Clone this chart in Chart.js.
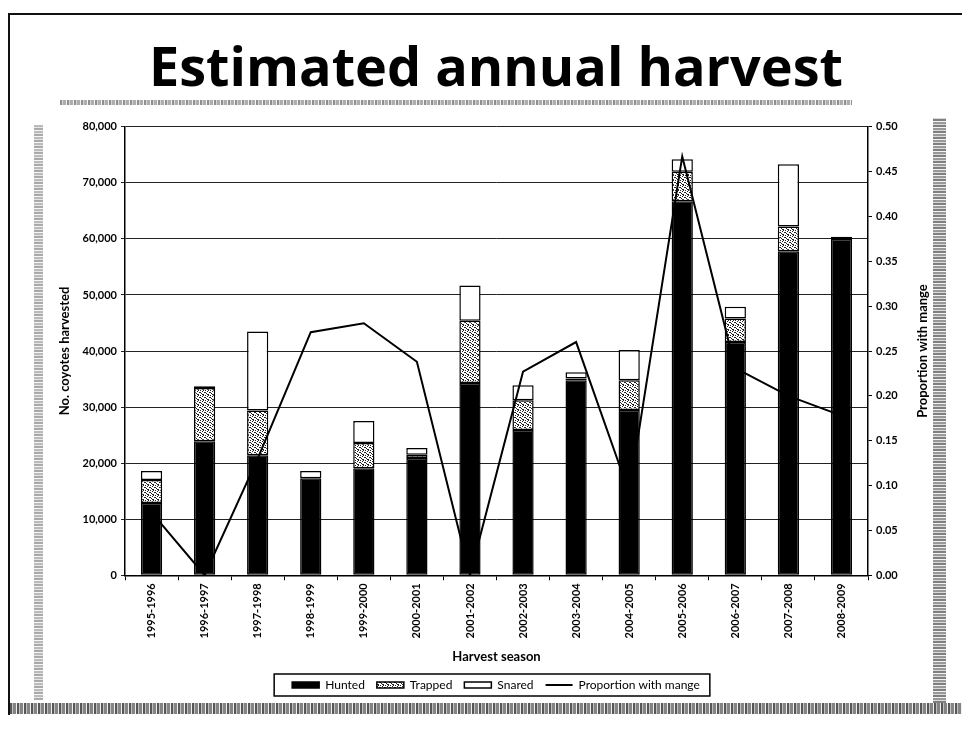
<!DOCTYPE html>
<html>
<head>
<meta charset="utf-8">
<title>Estimated annual harvest</title>
<script src="https://cdn.jsdelivr.net/npm/chart.js@4.4.1/dist/chart.umd.min.js"></script>
<style>
  body { margin: 0; background: #fff; }
  #wrap { position: relative; width: 962px; height: 729px; overflow: hidden; }
  #chart-canvas { position: absolute; left: 0; top: 0; }
  .frame { position: absolute; left: 8px; top: 13px; width: 960px; height: 700px;
           border-top: 2px solid #111; border-left: 2px solid #111; }
  .vstrip { position: absolute;
            background: repeating-linear-gradient(0deg, #555 0 2px, #ccc 2px 3px, #777 3px 5px, #eee 5px 6px); }
  .hstrip { position: absolute;
            background: repeating-linear-gradient(90deg, #444 0 2px, #bbb 2px 3px, #777 3px 6px, #eee 6px 7px); }
</style>
</head>
<body>
<div id="wrap">
  <canvas id="chart-canvas" width="962" height="729"></canvas>
  <div class="frame"></div>
  <div class="hstrip" style="left:60px;top:100px;width:792px;height:5px;opacity:.6"></div>
  <div class="vstrip" style="left:34px;top:125px;width:9px;height:575px;opacity:.5"></div>
  <div class="vstrip" style="left:933px;top:118px;width:13px;height:585px;opacity:.75"></div>
  <div class="hstrip" style="left:10px;top:703px;width:952px;height:11px;opacity:.9"></div>
</div>
<script>
// values
var seasons = ['1995-1996', '1996-1997', '1997-1998', '1998-1999', '1999-2000', '2000-2001', '2001-2002',
               '2002-2003', '2003-2004', '2004-2005', '2005-2006', '2006-2007', '2007-2008', '2008-2009'];
var hunted  = [12900, 23900, 21400, 17300, 19100, 20900, 34300, 25900, 34800, 29500, 66700, 41600, 57800, 60000];
var trapped = [4100, 9500, 8000, 0, 4500, 600, 11100, 5300, 300, 5300, 5300, 4200, 4400, 0];
var snared  = [1600, 300, 14100, 1300, 3900, 1200, 6300, 2700, 1100, 5400, 2200, 2100, 11100, 400];
var mange   = [0.07, 0.0, 0.13, 0.271, 0.281, 0.238, 0.0, 0.227, 0.26, 0.092, 0.467, 0.231, 0.2, 0.178];

var countTicks = [0, 10000, 20000, 30000, 40000, 50000, 60000, 70000, 80000];
var propTicks = [0, 0.05, 0.10, 0.15, 0.20, 0.25, 0.30, 0.35, 0.40, 0.45, 0.50];

var chartTitle = 'Estimated annual harvest';
var xTitle = 'Harvest season';
var yTitle = 'No. coyotes harvested';
var y1Title = 'Proportion with mange';

var canvas = document.getElementById('chart-canvas');
var ctx = canvas.getContext('2d');

// speckled fill for the trapped part of each bar
var pc = document.createElement('canvas');
pc.width = 5; pc.height = 5;
var pctx = pc.getContext('2d');
pctx.fillStyle = '#fff';
pctx.fillRect(0, 0, 5, 5);
pctx.fillStyle = '#222';
[[0, 0], [2, 1], [4, 2], [1, 3], [3, 4], [3, 0], [0, 2], [2, 4]].forEach(function (p) {
    pctx.fillRect(p[0], p[1], 1, 1);
});
var trappedFill = ctx.createPattern(pc, 'repeat');

Chart.defaults.font.family = 'Lato, "Open Sans", sans-serif';
Chart.defaults.color = '#000';

// box round the legend, like the slide has
var boxedLegend = {
    id: 'boxedLegend',
    afterDraw: function (chart) {
        var hb = chart.legend.legendHitBoxes;
        if (!hb || !hb.length) return;
        var l = Math.min.apply(null, hb.map(function (h) { return h.left; })) - 18;
        var r = Math.max.apply(null, hb.map(function (h) { return h.left + h.width; })) + 10;
        var t = Math.min.apply(null, hb.map(function (h) { return h.top; })) - 5;
        var b = Math.max.apply(null, hb.map(function (h) { return h.top + h.height; })) + 5;
        var c = chart.ctx;
        c.save();
        c.strokeStyle = '#000';
        c.lineWidth = 1.5;
        c.strokeRect(l, t, r - l, b - t);
        c.restore();
    }
};

// right axis title reads bottom to top on the slide
var rightTitle = {
    id: 'rightTitle',
    afterDraw: function (chart) {
        var a = chart.chartArea;
        var c = chart.ctx;
        c.save();
        c.translate(a.right + 55, (a.top + a.bottom) / 2);
        c.rotate(-Math.PI / 2);
        c.font = 'bold 13px Lato, "Open Sans", sans-serif';
        c.fillStyle = '#000';
        c.textAlign = 'center';
        c.textBaseline = 'middle';
        c.fillText(y1Title, 0, 0);
        c.restore();
    }
};

var barBase = {
    type: 'bar',
    borderColor: '#000',
    borderWidth: 1.5,
    borderSkipped: false,
    barPercentage: 0.4,
    categoryPercentage: 1.0,
    yAxisID: 'y',
    order: 1
};

var chart = new Chart(ctx, {
    data: {
        labels: seasons,
        datasets: [
            Object.assign({}, barBase, { label: 'Hunted', data: hunted, backgroundColor: '#000' }),
            Object.assign({}, barBase, { label: 'Trapped', data: trapped, backgroundColor: trappedFill }),
            Object.assign({}, barBase, { label: 'Snared', data: snared, backgroundColor: '#fff' }),
            {
                type: 'line',
                label: y1Title,
                data: mange,
                yAxisID: 'y1',
                borderColor: '#000',
                backgroundColor: '#000',
                borderWidth: 2,
                pointRadius: 0,
                tension: 0,
                order: 0
            }
        ]
    },
    options: {
        responsive: false,
        animation: false,
        layout: { padding: { left: 57, right: 27, top: 0, bottom: 28 } },
        plugins: {
            title: {
                display: true,
                text: chartTitle,
                color: '#000',
                font: { family: '"Open Sans", Lato, sans-serif', size: 54, weight: 'bold' },
                padding: { top: 38, bottom: 24 }
            },
            legend: {
                position: 'bottom',
                labels: {
                    usePointStyle: true,
                    pointStyleWidth: 27,
                    boxHeight: 6,
                    padding: 12,
                    color: '#000',
                    font: { size: 12 },
                    generateLabels: function (chart) {
                        var items = Chart.defaults.plugins.legend.labels.generateLabels(chart);
                        items.sort(function (a, b) { return a.datasetIndex - b.datasetIndex; });
                        items.forEach(function (it) {
                            it.pointStyle = it.datasetIndex === 3 ? 'line' : 'rect';
                        });
                        return items;
                    }
                }
            },
            tooltip: { enabled: false }
        },
        scales: {
            x: {
                stacked: true,
                grid: { display: true, drawOnChartArea: false, color: '#000', tickLength: 5 },
                border: { color: '#000', width: 1.5 },
                ticks: { minRotation: 90, maxRotation: 90, autoSkip: false, padding: 3,
                         font: { size: 11, weight: 'bold' } },
                title: { display: true, text: xTitle, font: { size: 13, weight: 'bold' },
                         padding: { top: 8, bottom: 2 } }
            },
            y: {
                stacked: true,
                min: countTicks[0],
                max: countTicks[countTicks.length - 1],
                afterBuildTicks: function (s) { s.ticks = countTicks.map(function (v) { return { value: v }; }); },
                ticks: { padding: 4, font: { size: 11, weight: 'bold' },
                         callback: function (v) { return v.toLocaleString('en-US'); } },
                grid: { color: '#222', tickLength: 4 },
                border: { color: '#000', width: 1.5 },
                title: { display: true, text: yTitle, font: { size: 13, weight: 'bold' },
                         padding: { top: 0, bottom: 4 } },
                afterFit: function (s) { s.width = 68; }
            },
            y1: {
                position: 'right',
                min: propTicks[0],
                max: propTicks[propTicks.length - 1],
                afterBuildTicks: function (s) { s.ticks = propTicks.map(function (v) { return { value: v }; }); },
                ticks: { padding: 4, font: { size: 11, weight: 'bold' },
                         callback: function (v) { return v.toFixed(2); } },
                grid: { drawOnChartArea: false, color: '#000', tickLength: 4 },
                border: { color: '#000', width: 1.5 },
                afterFit: function (s) { s.width = 67; }
            }
        }
    },
    plugins: [boxedLegend, rightTitle]
});
</script>
</body>
</html>
